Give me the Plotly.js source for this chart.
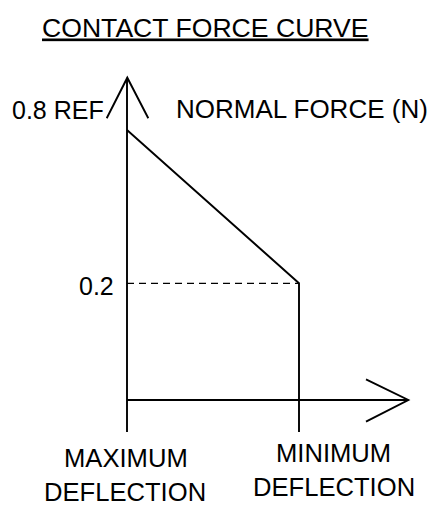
<!DOCTYPE html>
<html><head><meta charset="utf-8">
<script src="https://cdn.plot.ly/plotly-3.0.1.min.js"></script>
<style>html,body{margin:0;padding:0;background:#fff;} #chart{width:445px;height:506px;}</style>
</head><body><div id="chart"></div>
<script>
// ---- data ----
const deflectionPositions = [0, 1];
const deflectionLabels = [["MAXIMUM", "DEFLECTION"], ["MINIMUM", "DEFLECTION"]];
const forceValues = [0.8, 0.2];
const forceLabels = ["0.8 REF", "0.2"];
const chartTitle = "CONTACT FORCE CURVE";
const yAxisTitle = "NORMAL FORCE (N)";

// ---- frame (schematic, not to scale) ----
const W = 445, H = 506;
const PX0 = 127, PX1 = 299;           // pixel columns of the two deflection points
const PY_LOW = 283.3, PY_HIGH = 130;  // pixel rows of forceValues[1] and forceValues[0]
const k = (PY_LOW - PY_HIGH) / Math.log10(forceValues[0] / forceValues[1]);
const xOfPx = p => (p - PX0) / (PX1 - PX0);
const logYOfPx = p => Math.log10(forceValues[1]) + (PY_LOW - p) / k;
const yOfPx = p => Math.pow(10, logYOfPx(p));
const pxX = p => p / W, pxY = p => 1 - p / H;

const yBase = yOfPx(400), yBottom = yOfPx(432), yTop = yOfPx(77.7);
const xEnd = xOfPx(408.3);

const lineStyle = {color: '#000', width: 1.9};
const FONT = 'Liberation Sans, Arial, Helvetica, sans-serif';

const traces = [
  {x: [deflectionPositions[0], deflectionPositions[0]], y: [yBottom, yTop], mode: 'lines', line: lineStyle},
  {x: [deflectionPositions[0], xEnd], y: [yBase, yBase], mode: 'lines', line: lineStyle},
  {x: [deflectionPositions[0], deflectionPositions[1], deflectionPositions[1]],
   y: [forceValues[0], forceValues[1], yBottom], mode: 'lines', line: lineStyle},
  {x: [deflectionPositions[0], deflectionPositions[1]], y: [forceValues[1], forceValues[1]],
   mode: 'lines', line: {color: '#000', width: 1.3, dash: '7px,5px'}}
].map(t => Object.assign(t, {hoverinfo: 'skip', showlegend: false}));

const shapes = [
  {type: 'path', xref: 'paper', yref: 'paper', xsizemode: 'pixel', ysizemode: 'pixel',
   xanchor: pxX(127.3), yanchor: pxY(77.7), path: 'M-20.6,-40.6L0,0L21,-40.6', line: lineStyle},
  {type: 'path', xref: 'paper', yref: 'paper', xsizemode: 'pixel', ysizemode: 'pixel',
   xanchor: pxX(408.3), yanchor: pxY(400), path: 'M-42.3,20.7L0,0L-42.3,-21.7', line: lineStyle}
];

function ann(text, px, py, size) {
  return {text: text, xref: 'paper', yref: 'paper', x: pxX(px), y: pxY(py),
          xanchor: 'center', yanchor: 'middle', showarrow: false,
          font: {family: FONT, size: size || 25.6, color: '#000'}};
}
const annotations = [
  ann(yAxisTitle, 301.7, 108.9, 26),
  ann(forceLabels[0], 58.4, 110.3, 25),
  ann(forceLabels[1], 96.7, 285.8, 25),
  ann(deflectionLabels[0][0], 126, 457.8),
  ann(deflectionLabels[0][1], 125, 492.2),
  ann(deflectionLabels[1][0], 333, 453.2),
  ann(deflectionLabels[1][1], 334, 487)
];

const layout = {
  width: W, height: H,
  margin: {l: 0, r: 0, t: 0, b: 0, pad: 0},
  paper_bgcolor: '#fff', plot_bgcolor: '#fff',
  title: {text: '<u>' + chartTitle + '</u>', xref: 'paper', yref: 'container',
          x: pxX(205.3), xanchor: 'center', y: 1 - 27.2 / H, yanchor: 'middle',
          font: {family: FONT, size: 26.6, color: '#000'}},
  xaxis: {range: [xOfPx(0), xOfPx(W)], visible: false, fixedrange: true},
  yaxis: {type: 'log', range: [logYOfPx(H), logYOfPx(0)], visible: false, fixedrange: true},
  shapes: shapes,
  annotations: annotations,
  showlegend: false
};

Plotly.newPlot('chart', traces, layout, {staticPlot: true, displayModeBar: false});
</script>
</body></html>
